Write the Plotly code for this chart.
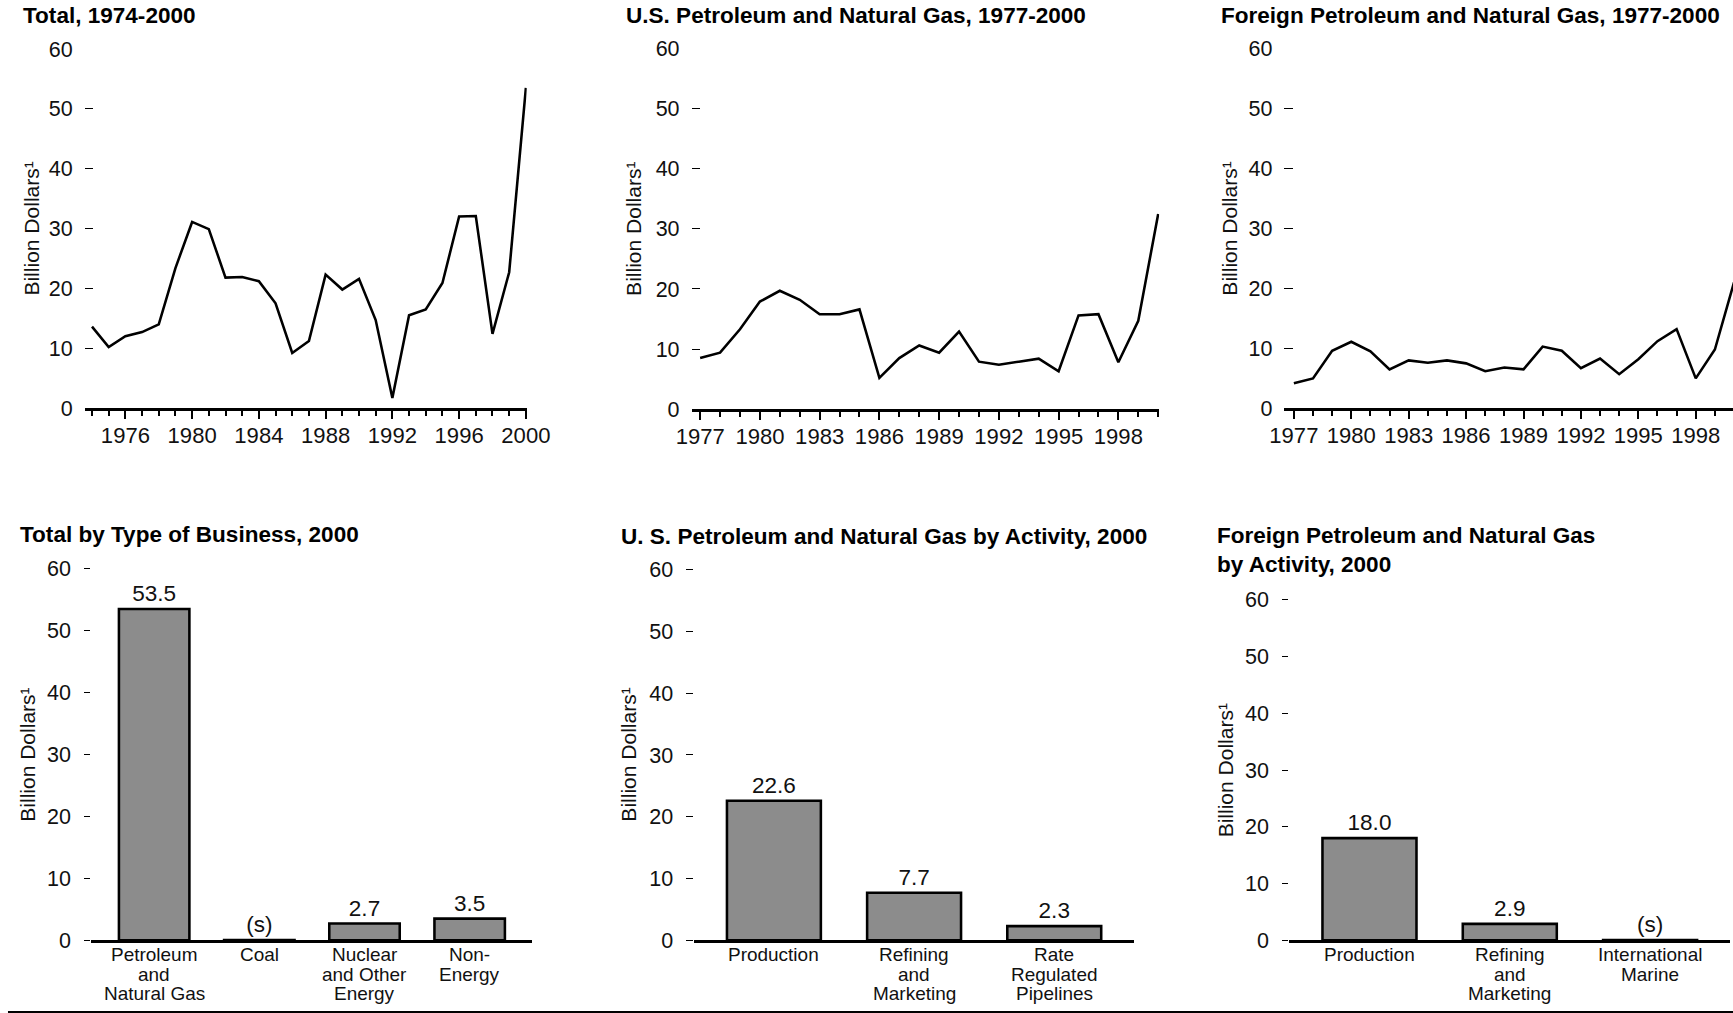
import plotly.graph_objects as go

# ---------------- data ----------------
years_total = list(range(1974, 2001))
total_capex = [13.6, 10.2, 12.0, 12.7, 14.0, 23.4, 31.1, 29.9, 21.8, 21.9, 21.2, 17.5, 9.2,
               11.2, 22.3, 19.8, 21.6, 14.7, 1.7, 15.5, 16.5, 20.9, 32.0, 32.1, 12.4, 22.7, 53.5]

years_pg = list(range(1977, 2001))
us_pg = [8.5, 9.4, 13.3, 17.9, 19.7, 18.2, 15.8, 15.8, 16.6, 5.2, 8.5, 10.6, 9.4, 12.9,
         7.9, 7.4, 7.9, 8.4, 6.3, 15.6, 15.8, 7.8, 14.7, 32.5]
foreign_pg = [4.2, 5.0, 9.6, 11.1, 9.5, 6.5, 8.0, 7.6, 8.0, 7.5, 6.2, 6.8, 6.5, 10.3,
              9.6, 6.7, 8.3, 5.7, 8.2, 11.2, 13.2, 5.0, 9.8, 21.0]

business_cats = ["Petroleum<br>and<br>Natural Gas", "Coal", "Nuclear<br>and Other<br>Energy", "Non-<br>Energy"]
business_vals = [53.5, 0.05, 2.7, 3.5]
business_text = ["53.5", "(s)", "2.7", "3.5"]

us_act_cats = ["Production", "Refining<br>and<br>Marketing", "Rate<br>Regulated<br>Pipelines"]
us_act_vals = [22.6, 7.7, 2.3]
us_act_text = ["22.6", "7.7", "2.3"]

for_act_cats = ["Production", "Refining<br>and<br>Marketing", "International<br>Marine"]
for_act_vals = [18.0, 2.9, 0.05]
for_act_text = ["18.0", "2.9", "(s)"]

titles = [
    "Total, 1974-2000",
    "U.S. Petroleum and Natural Gas, 1977-2000",
    "Foreign Petroleum and Natural Gas, 1977-2000",
    "Total by Type of Business, 2000",
    "U. S. Petroleum and Natural Gas by Activity, 2000",
    "Foreign Petroleum and Natural Gas<br>by Activity, 2000",
]
y_title = "Billion Dollars¹"
y_ticks = [0, 10, 20, 30, 40, 50, 60]

# ---------------- layout helpers ----------------
# Target geometry is written in screen pixels of the 1733x1013 picture.
# The page is photographed with a small inset and scale, so the figure is
# laid out to compensate for it.
S = 0.975            # observed photo scale
OX, OY = 16.5, 10.6  # observed photo inset (px)
FW, FH = 1762, 1030  # figure size that covers the picture after compensation
FONT = "Liberation Sans, Arial, Helvetica, sans-serif"
INK = "#111111"
BAR_FILL = "#8c8c8c"


def fx(t):
    return (t - OX) / S / FW


def fy(t):
    return 1 - (t - OY) / S / FH


def sz(v):
    return v / S


# panel geometry in target px: (x_left, x_right, y_of_zero, y_of_sixty)
panels = [
    (85, 526, 407, 48.5),
    (690.5, 1157, 408, 48.3),
    (1282, 1732, 407.3, 47.7),
    (91.7, 531, 938.3, 567.3),
    (692.5, 1131.6, 938.3, 568.3),
    (1287, 1726, 938.3, 598.3),
]
x_ranges = [
    [1973.56, 2000.05],
    [1976.57, 2000.05],
    [1976.51, 2000.08],
    [-0.597, 3.59],
    [-0.573, 2.567],
    [-0.57, 2.566],
]
title_pos = [(21, 15), (623, 15), (1217, 15), (18, 533), (618, 535), (1213, 549)]
ytitle_x = [31.5, 633, 1227, 27.7, 627.7, 1223]
cat_label_y0 = 952.5
cat_label_step = 19.5

fig = go.Figure()

line_series = [(years_total, total_capex), (years_pg, us_pg), (years_pg, foreign_pg)]
for i, (xs, ys) in enumerate(line_series):
    n = "" if i == 0 else str(i + 1)
    fig.add_trace(go.Scatter(x=xs, y=ys, mode="lines", line=dict(color="black", width=sz(2.5)),
                             xaxis="x" + n, yaxis="y" + n, showlegend=False, hoverinfo="x+y"))

bar_series = [(business_cats, business_vals, business_text),
              (us_act_cats, us_act_vals, us_act_text),
              (for_act_cats, for_act_vals, for_act_text)]
for j, (cats, vals, txt) in enumerate(bar_series):
    n = str(j + 4)
    fig.add_trace(go.Bar(x=cats, y=vals, text=txt, textposition="outside", cliponaxis=False,
                         textfont=dict(size=sz(22), color=INK, family=FONT),
                         marker=dict(color=BAR_FILL, line=dict(color="black", width=sz(2.5))),
                         width=0.67, xaxis="x" + n, yaxis="y" + n, showlegend=False,
                         constraintext="none"))

layout = dict(
    width=FW, height=FH, margin=dict(l=0, r=0, t=0, b=0, pad=0), autosize=False,
    paper_bgcolor="white", plot_bgcolor="white",
    font=dict(family=FONT, color=INK),
    showlegend=False,
)

year_ticks = [dict(tick0=1976, dtick=4), dict(tick0=1977, dtick=3), dict(tick0=1977, dtick=3)]
minor_start = [1974, 1977, 1977]

for i, (xl, xr, y0, y60) in enumerate(panels):
    n = "" if i == 0 else str(i + 1)
    xa = dict(domain=[fx(xl), fx(xr)], range=x_ranges[i], anchor="y" + n,
              showline=True, linecolor="black", linewidth=sz(2.5), showgrid=False, zeroline=False,
              fixedrange=True)
    ya = dict(domain=[fy(y0), fy(y60)], range=[0, 60], anchor="x" + n,
              tickvals=y_ticks, showline=False, showgrid=False, zeroline=False,
              tickcolor="black", tickwidth=1, tickfont=dict(size=sz(21), color=INK),
              fixedrange=True)
    if i < 3:
        xa.update(dict(tickmode="linear", tick0=year_ticks[i]["tick0"], dtick=year_ticks[i]["dtick"],
                       ticks="outside", ticklen=sz(8), tickwidth=sz(2), tickcolor="black",
                       tickfont=dict(size=sz(21.5), color=INK), ticklabelstandoff=-3,
                       minor=dict(ticks="outside", ticklen=sz(5), tickwidth=sz(2), tickcolor="black",
                                  tick0=minor_start[i], dtick=1, showgrid=False)))
        ya.update(dict(ticks="inside", ticklen=sz(8), ticklabelstandoff=11))
    else:
        xa.update(dict(type="category", ticks="", showticklabels=False))
        ya.update(dict(ticks="outside", ticklen=sz(6), ticklabelstandoff=9))
    layout["xaxis" + n] = xa
    layout["yaxis" + n] = ya

annotations = []
for i, t in enumerate(titles):
    tx, ty = title_pos[i]
    annotations.append(dict(text="<b>" + t + "</b>", x=fx(tx), y=fy(ty), xref="paper", yref="paper",
                            xanchor="left", yanchor="middle", align="left", showarrow=False,
                            font=dict(size=sz(22), color="black", family=FONT)))
for i, (xl, xr, y0, y60) in enumerate(panels):
    annotations.append(dict(text=y_title, x=fx(ytitle_x[i]), y=fy((y0 + y60) / 2),
                            xref="paper", yref="paper", xanchor="center", yanchor="middle",
                            textangle=-90, showarrow=False,
                            font=dict(size=sz(20.5), color=INK, family=FONT)))

for j, (cats, vals, txt) in enumerate(bar_series):
    n = str(j + 4)
    for c in cats:
        for k, part in enumerate(c.split("<br>")):
            annotations.append(dict(text=part, x=c, xref="x" + n, y=fy(cat_label_y0 + k * cat_label_step),
                                    yref="paper", xanchor="center", yanchor="middle", showarrow=False,
                                    font=dict(size=sz(18.5), color=INK, family=FONT)))
layout["annotations"] = annotations

layout["shapes"] = [
    dict(type="line", xref="paper", yref="paper", x0=fx(8.5), x1=1.0,
         y0=fy(1010.3), y1=fy(1010.3), line=dict(color="black", width=sz(3))),
]

fig.update_layout(**layout)

post = ("document.documentElement.style.margin='0';document.documentElement.style.padding='0';"
        "document.documentElement.style.overflow='hidden';"
        "document.body.style.margin='0';document.body.style.padding='0';document.body.style.overflow='hidden';"
        "var d=document.getElementById('{plot_id}');"
        "if(d){d.style.position='fixed';d.style.left='0px';d.style.top='0px';}")

fig.write_html("out.html", config={"displayModeBar": False}, post_script=post)
